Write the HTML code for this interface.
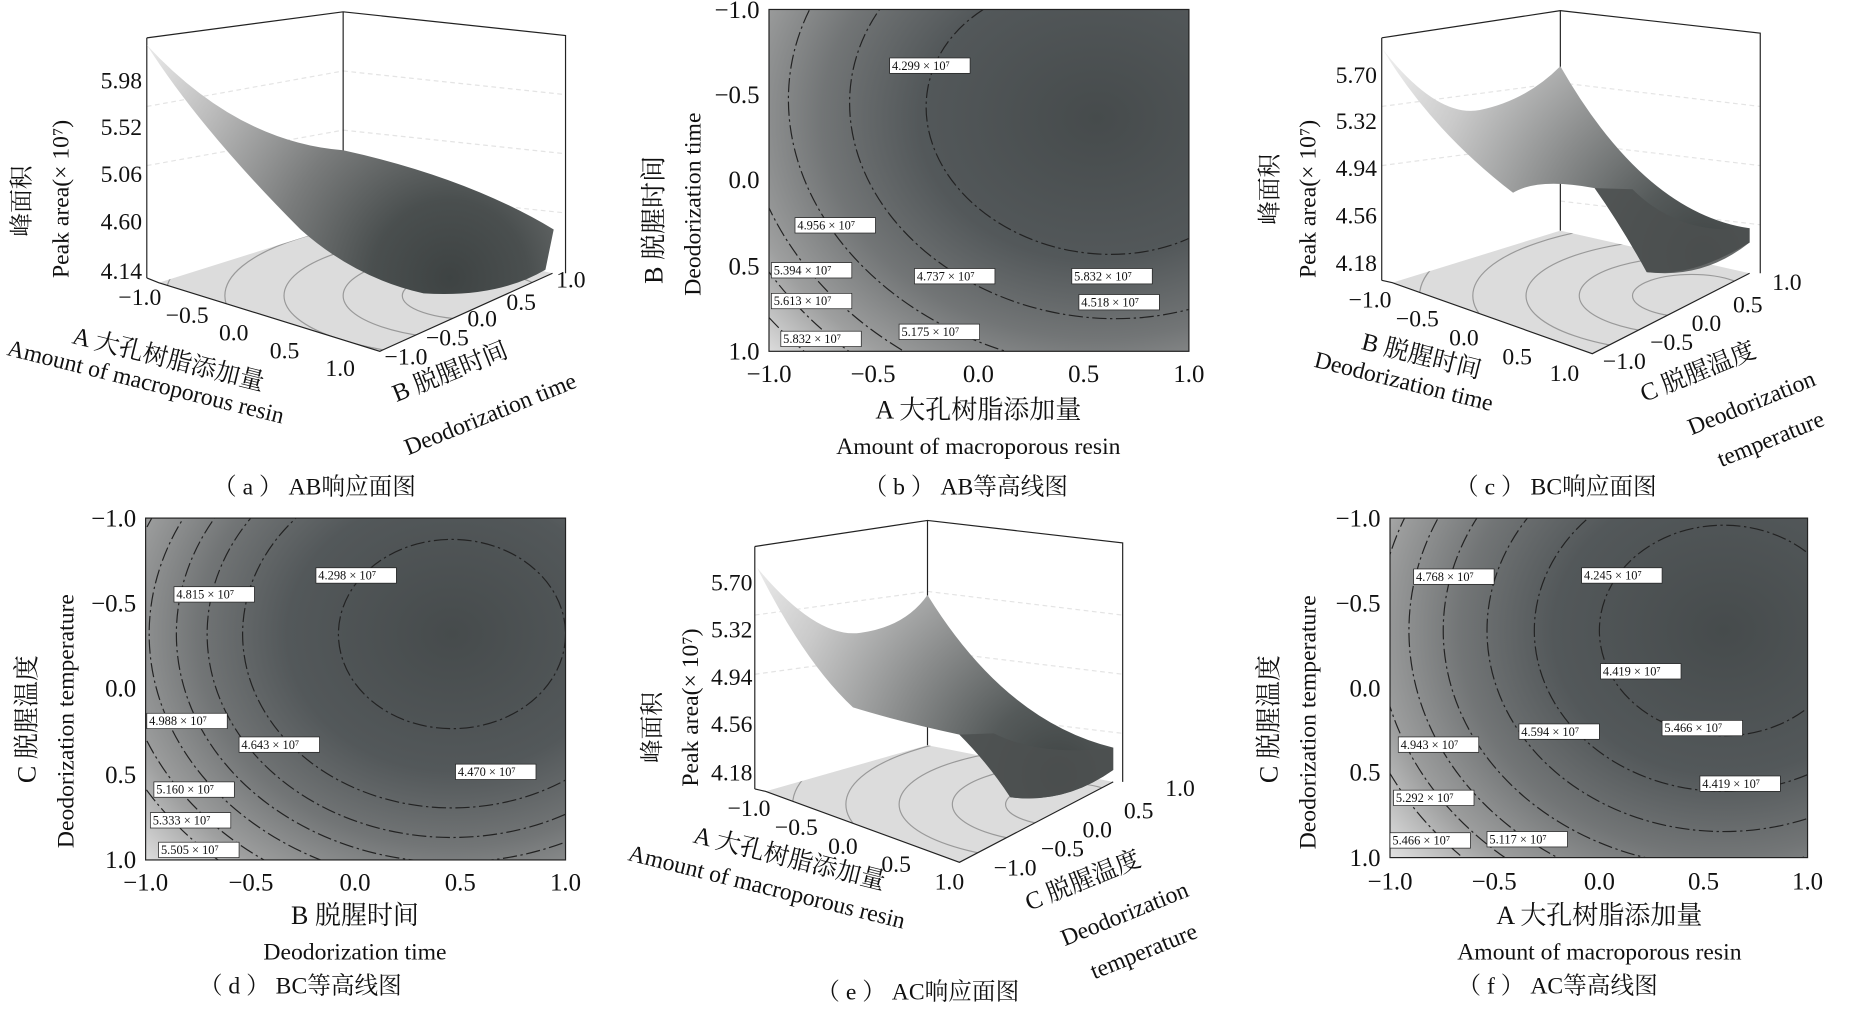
<!DOCTYPE html>
<html><head><meta charset="utf-8"><style>
html,body{margin:0;padding:0;background:#fff;}
svg{display:block;}
text{font-family:"Liberation Serif","Noto Serif CJK SC",serif;fill:#111;}
</style></head><body>
<svg width="1855" height="1009" viewBox="0 0 1568 853" xmlns="http://www.w3.org/2000/svg">
<defs>
<radialGradient id="gb" gradientUnits="userSpaceOnUse" cx="927" cy="100" r="300" gradientTransform="translate(927 100) scale(1.25 1) translate(-927 -100)">
<stop offset="0" stop-color="#464b4c"/><stop offset="0.4" stop-color="#53585a"/><stop offset="0.62" stop-color="#727576"/><stop offset="0.82" stop-color="#9e9f9f"/><stop offset="1" stop-color="#e0e0e0"/></radialGradient>
<radialGradient id="gd" gradientUnits="userSpaceOnUse" cx="382" cy="536" r="290" gradientTransform="translate(382 536) scale(1.2 1) translate(-382 -536)">
<stop offset="0" stop-color="#464b4c"/><stop offset="0.4" stop-color="#53585a"/><stop offset="0.62" stop-color="#727576"/><stop offset="0.82" stop-color="#9e9f9f"/><stop offset="1" stop-color="#e0e0e0"/></radialGradient>
<radialGradient id="gf" gradientUnits="userSpaceOnUse" cx="1457" cy="533" r="305" gradientTransform="translate(1457 533) scale(1.18 1) translate(-1457 -533)">
<stop offset="0" stop-color="#464b4c"/><stop offset="0.4" stop-color="#53585a"/><stop offset="0.62" stop-color="#727576"/><stop offset="0.82" stop-color="#9e9f9f"/><stop offset="1" stop-color="#e0e0e0"/></radialGradient>
<radialGradient id="sa" gradientUnits="userSpaceOnUse" cx="380" cy="235" r="330">
<stop offset="0" stop-color="#3e4343"/><stop offset="0.2" stop-color="#4a4f4f"/><stop offset="0.45" stop-color="#7a7c7c"/><stop offset="0.75" stop-color="#bdbdbd"/><stop offset="1" stop-color="#efefef"/></radialGradient>
<radialGradient id="sc" gradientUnits="userSpaceOnUse" cx="1440" cy="215" r="320">
<stop offset="0" stop-color="#3e4343"/><stop offset="0.2" stop-color="#555a5a"/><stop offset="0.45" stop-color="#8a8c8c"/><stop offset="0.75" stop-color="#cacaca"/><stop offset="1" stop-color="#f0f0f0"/></radialGradient>
<radialGradient id="se" gradientUnits="userSpaceOnUse" cx="895" cy="655" r="320">
<stop offset="0" stop-color="#3e4343"/><stop offset="0.2" stop-color="#555a5a"/><stop offset="0.45" stop-color="#8a8c8c"/><stop offset="0.75" stop-color="#cacaca"/><stop offset="1" stop-color="#f0f0f0"/></radialGradient>
<clipPath id="cb"><rect x="650" y="8" width="355" height="289"/></clipPath>
<clipPath id="cd"><rect x="123" y="438" width="355" height="289"/></clipPath>
<clipPath id="cf"><rect x="1175" y="438" width="353" height="287"/></clipPath>
<clipPath id="fa"><polygon points="134,239 321,297 467,231 290,190"/></clipPath>
<clipPath id="fc"><polygon points="1177,239 1346,299 1479,231 1319,195"/></clipPath>
<clipPath id="fe"><polygon points="647,669 811,729 941,661 784,630"/></clipPath>
</defs>

<!-- ===== (a) ===== -->
<g>
<g stroke="#e4e4e4" stroke-dasharray="4 3"><line x1="124" y1="90" x2="290" y2="60"/><line x1="124" y1="140" x2="290" y2="110"/><line x1="290" y1="60" x2="478" y2="80"/><line x1="290" y1="110" x2="478" y2="130"/><line x1="290" y1="160" x2="478" y2="180"/></g>
<polygon points="134,239 321,297 467,231 290,190" fill="#dcdcdc"/>
<g clip-path="url(#fa)" fill="none" stroke="#999"><ellipse cx="400" cy="250" rx="60" ry="20"/><ellipse cx="400" cy="250" rx="110" ry="37"/><ellipse cx="400" cy="250" rx="160" ry="52"/><ellipse cx="400" cy="250" rx="210" ry="68"/><ellipse cx="400" cy="250" rx="260" ry="85"/></g>
<polyline points="124,32 290,10 478,30 478,231" fill="none" stroke="#222"/>
<line x1="290" y1="10" x2="290" y2="190" stroke="#222"/>
<line x1="124" y1="32" x2="124" y2="235" stroke="#222"/>
<polyline points="124,235 134,239 321,297 467,231" fill="none" stroke="#222"/>
<path d="M124,38 Q200,120 290,127 Q395,150 468,194 L461,228 Q420,252 358,248 Q300,235 254,194 Q170,110 124,38 Z" fill="url(#sa)"/>
<g font-size="20" text-anchor="end"><text x="120" y="75">5.98</text><text x="120" y="114">5.52</text><text x="120" y="154">5.06</text><text x="120" y="194">4.60</text><text x="120" y="236">4.14</text></g>
<text font-size="20" transform="translate(25 200) rotate(-90)">峰面积</text>
<text font-size="20" transform="translate(58 235) rotate(-90)">Peak area(× 10⁷)</text>
<g font-size="20"><text x="100" y="258">−1.0</text><text x="140" y="273">−0.5</text><text x="185" y="288">0.0</text><text x="228" y="303">0.5</text><text x="275" y="318">1.0</text></g>
<text font-size="21" x="60" y="290" transform="rotate(14 60 290)">A 大孔树脂添加量</text>
<text font-size="20" x="5" y="300" transform="rotate(14 5 300)">Amount of macroporous resin</text>
<g font-size="20"><text x="325" y="308">−1.0</text><text x="360" y="292">−0.5</text><text x="395" y="276">0.0</text><text x="428" y="262">0.5</text><text x="470" y="243">1.0</text></g>
<text font-size="21" x="335" y="340" transform="rotate(-22 335 340)">B 脱腥时间</text>
<text font-size="20" x="345" y="385" transform="rotate(-22 345 385)">Deodorization time</text>
<text font-size="20" x="180" y="418">（ a ） AB响应面图</text>
</g>

<!-- ===== (b) ===== -->
<g>
<rect x="650" y="8" width="355" height="289" fill="url(#gb)"/>
<g clip-path="url(#cb)" fill="none" stroke="#222" stroke-dasharray="12 3 2 3">
<g transform="rotate(10 927 100)">
<ellipse cx="927" cy="100" rx="145" ry="114"/><ellipse cx="927" cy="100" rx="210" ry="168"/><ellipse cx="927" cy="100" rx="262" ry="210"/><ellipse cx="927" cy="100" rx="300" ry="245"/><ellipse cx="927" cy="100" rx="330" ry="270"/><ellipse cx="927" cy="100" rx="358" ry="292"/></g>
</g>
<rect x="650" y="8" width="355" height="289" fill="none" stroke="#222"/>
<g font-size="10.5"><g fill="#fff" stroke="#222" stroke-width="0.6">
<rect x="752" y="49" width="68" height="13"/><rect x="672" y="184" width="68" height="13"/><rect x="652" y="222" width="68" height="13"/><rect x="773" y="227" width="68" height="13"/><rect x="906" y="227" width="68" height="13"/><rect x="652" y="248" width="68" height="13"/><rect x="912" y="249" width="68" height="13"/><rect x="760" y="274" width="68" height="13"/><rect x="660" y="280" width="68" height="13"/></g>
<text x="754" y="59">4.299 × 10⁷</text><text x="674" y="194">4.956 × 10⁷</text><text x="654" y="232">5.394 × 10⁷</text><text x="775" y="237">4.737 × 10⁷</text><text x="908" y="237">5.832 × 10⁷</text><text x="654" y="258">5.613 × 10⁷</text><text x="914" y="259">4.518 × 10⁷</text><text x="762" y="284">5.175 × 10⁷</text><text x="662" y="290">5.832 × 10⁷</text></g>
<g font-size="21" text-anchor="end"><text x="642" y="15">−1.0</text><text x="642" y="87">−0.5</text><text x="642" y="159">0.0</text><text x="642" y="232">0.5</text><text x="642" y="304">1.0</text></g>
<g font-size="21" text-anchor="middle"><text x="650" y="323">−1.0</text><text x="738" y="323">−0.5</text><text x="827" y="323">0.0</text><text x="916" y="323">0.5</text><text x="1005" y="323">1.0</text></g>
<text font-size="22" transform="translate(560 240) rotate(-90)">B 脱腥时间</text>
<text font-size="20" transform="translate(592 250) rotate(-90)">Deodorization time</text>
<text font-size="22" x="827" y="354" text-anchor="middle">A 大孔树脂添加量</text>
<text font-size="20" x="827" y="384" text-anchor="middle">Amount of macroporous resin</text>
<text font-size="20" x="730" y="418">（ b ） AB等高线图</text>
</g>

<!-- ===== (c) ===== -->
<g>
<g stroke="#e4e4e4" stroke-dasharray="4 3"><line x1="1168" y1="90" x2="1319" y2="70"/><line x1="1168" y1="140" x2="1319" y2="120"/><line x1="1319" y1="70" x2="1488" y2="90"/><line x1="1319" y1="120" x2="1488" y2="140"/><line x1="1319" y1="170" x2="1488" y2="190"/></g>
<polygon points="1177,239 1346,299 1479,231 1319,195" fill="#dcdcdc"/>
<g clip-path="url(#fc)" fill="none" stroke="#999"><ellipse cx="1430" cy="250" rx="50" ry="18"/><ellipse cx="1430" cy="250" rx="95" ry="33"/><ellipse cx="1430" cy="250" rx="140" ry="48"/><ellipse cx="1430" cy="250" rx="185" ry="63"/><ellipse cx="1430" cy="250" rx="230" ry="78"/></g>
<polyline points="1168,32 1319,9 1488,28 1488,231" fill="none" stroke="#222"/>
<line x1="1319" y1="9" x2="1319" y2="195" stroke="#222"/>
<line x1="1168" y1="32" x2="1168" y2="237" stroke="#222"/>
<polyline points="1168,237 1177,239 1346,299 1479,231" fill="none" stroke="#222"/>
<path d="M1169,42 Q1215,100 1251,93 Q1290,85 1319,56 Q1390,180 1479,193 L1479,205 Q1430,235 1392,230 Q1370,190 1348,159 Q1300,150 1279,163 Q1210,110 1169,42 Z" fill="url(#sc)"/>
<path d="M1348,159 Q1370,190 1392,230 Q1440,236 1479,205 L1479,193 Q1420,200 1380,160 Z" fill="#4c5050" opacity="0.85"/>
<g font-size="20" text-anchor="end"><text x="1164" y="70">5.70</text><text x="1164" y="109">5.32</text><text x="1164" y="149">4.94</text><text x="1164" y="189">4.56</text><text x="1164" y="229">4.18</text></g>
<text font-size="20" transform="translate(1080 190) rotate(-90)">峰面积</text>
<text font-size="20" transform="translate(1112 235) rotate(-90)">Peak area(× 10⁷)</text>
<g font-size="20"><text x="1140" y="260">−1.0</text><text x="1180" y="276">−0.5</text><text x="1225" y="292">0.0</text><text x="1270" y="308">0.5</text><text x="1310" y="322">1.0</text></g>
<text font-size="21" x="1150" y="295" transform="rotate(14 1150 295)">B 脱腥时间</text>
<text font-size="20" x="1110" y="310" transform="rotate(14 1110 310)">Deodorization time</text>
<g font-size="20"><text x="1355" y="312">−1.0</text><text x="1395" y="296">−0.5</text><text x="1430" y="280">0.0</text><text x="1465" y="264">0.5</text><text x="1498" y="245">1.0</text></g>
<text font-size="21" x="1390" y="340" transform="rotate(-22 1390 340)">C 脱腥温度</text>
<text font-size="20" x="1430" y="368" transform="rotate(-22 1430 368)">Deodorization</text>
<text font-size="20" x="1455" y="395" transform="rotate(-22 1455 395)">temperature</text>
<text font-size="20" x="1230" y="418">（ c ） BC响应面图</text>
</g>

<!-- ===== (d) ===== -->
<g>
<rect x="123" y="438" width="355" height="289" fill="url(#gd)"/>
<g clip-path="url(#cd)" fill="none" stroke="#222" stroke-dasharray="12 3 2 3">
<ellipse cx="382" cy="536" rx="96" ry="80"/><ellipse cx="382" cy="536" rx="177" ry="147"/><ellipse cx="382" cy="536" rx="207" ry="172"/><ellipse cx="382" cy="536" rx="233" ry="193"/><ellipse cx="382" cy="536" rx="256" ry="212"/><ellipse cx="382" cy="536" rx="280" ry="232"/><ellipse cx="382" cy="536" rx="303" ry="252"/>
</g>
<rect x="123" y="438" width="355" height="289" fill="none" stroke="#222"/>
<g font-size="10.5"><g fill="#fff" stroke="#222" stroke-width="0.6">
<rect x="267" y="480" width="68" height="13"/><rect x="147" y="496" width="68" height="13"/><rect x="124" y="603" width="68" height="13"/><rect x="202" y="623" width="68" height="13"/><rect x="385" y="646" width="68" height="13"/><rect x="130" y="661" width="68" height="13"/><rect x="127" y="687" width="68" height="13"/><rect x="134" y="712" width="68" height="13"/></g>
<text x="269" y="490">4.298 × 10⁷</text><text x="149" y="506">4.815 × 10⁷</text><text x="126" y="613">4.988 × 10⁷</text><text x="204" y="633">4.643 × 10⁷</text><text x="387" y="656">4.470 × 10⁷</text><text x="132" y="671">5.160 × 10⁷</text><text x="129" y="697">5.333 × 10⁷</text><text x="136" y="722">5.505 × 10⁷</text></g>
<g font-size="21" text-anchor="end"><text x="115" y="445">−1.0</text><text x="115" y="517">−0.5</text><text x="115" y="589">0.0</text><text x="115" y="662">0.5</text><text x="115" y="734">1.0</text></g>
<g font-size="21" text-anchor="middle"><text x="123" y="753">−1.0</text><text x="212" y="753">−0.5</text><text x="300" y="753">0.0</text><text x="389" y="753">0.5</text><text x="478" y="753">1.0</text></g>
<text font-size="22" transform="translate(30 662) rotate(-90)">C 脱腥温度</text>
<text font-size="20" transform="translate(62 717) rotate(-90)">Deodorization temperature</text>
<text font-size="22" x="300" y="781" text-anchor="middle">B 脱腥时间</text>
<text font-size="20" x="300" y="811" text-anchor="middle">Deodorization time</text>
<text font-size="20" x="168" y="840">（ d ） BC等高线图</text>
</g>

<!-- ===== (e) ===== -->
<g>
<g stroke="#e4e4e4" stroke-dasharray="4 3"><line x1="638" y1="520" x2="784" y2="500"/><line x1="638" y1="570" x2="784" y2="550"/><line x1="784" y1="500" x2="949" y2="520"/><line x1="784" y1="550" x2="949" y2="570"/><line x1="784" y1="600" x2="949" y2="620"/></g>
<polygon points="647,669 811,729 941,661 784,630" fill="#dcdcdc"/>
<g clip-path="url(#fe)" fill="none" stroke="#999"><ellipse cx="900" cy="680" rx="50" ry="18"/><ellipse cx="900" cy="680" rx="95" ry="33"/><ellipse cx="900" cy="680" rx="140" ry="48"/><ellipse cx="900" cy="680" rx="185" ry="63"/><ellipse cx="900" cy="680" rx="230" ry="78"/></g>
<polyline points="638,462 784,440 949,459 949,661" fill="none" stroke="#222"/>
<line x1="784" y1="440" x2="784" y2="630" stroke="#222"/>
<line x1="638" y1="462" x2="638" y2="667" stroke="#222"/>
<polyline points="638,667 647,669 811,729 941,661" fill="none" stroke="#222"/>
<path d="M640,480 Q690,540 727,535 Q765,530 784,503 Q850,610 941,632 L941,651 Q900,680 854,674 Q835,645 811,621 Q760,610 721,598 Q680,560 640,480 Z" fill="url(#se)"/>
<path d="M811,621 Q835,645 854,674 Q900,680 941,651 L941,632 Q880,640 840,620 Z" fill="#4c5050" opacity="0.85"/>
<g font-size="20" text-anchor="end"><text x="636" y="499">5.70</text><text x="636" y="539">5.32</text><text x="636" y="579">4.94</text><text x="636" y="619">4.56</text><text x="636" y="660">4.18</text></g>
<text font-size="20" transform="translate(558 645) rotate(-90)">峰面积</text>
<text font-size="20" transform="translate(590 665) rotate(-90)">Peak area(× 10⁷)</text>
<g font-size="20"><text x="615" y="690">−1.0</text><text x="655" y="706">−0.5</text><text x="700" y="722">0.0</text><text x="745" y="737">0.5</text><text x="790" y="752">1.0</text></g>
<text font-size="21" x="585" y="712" transform="rotate(14 585 712)">A 大孔树脂添加量</text>
<text font-size="20" x="530" y="727" transform="rotate(14 530 727)">Amount of macroporous resin</text>
<g font-size="20"><text x="840" y="740">−1.0</text><text x="880" y="724">−0.5</text><text x="915" y="708">0.0</text><text x="950" y="692">0.5</text><text x="985" y="673">1.0</text></g>
<text font-size="21" x="870" y="770" transform="rotate(-22 870 770)">C 脱腥温度</text>
<text font-size="20" x="900" y="800" transform="rotate(-22 900 800)">Deodorization</text>
<text font-size="20" x="925" y="828" transform="rotate(-22 925 828)">temperature</text>
<text font-size="20" x="690" y="845">（ e ） AC响应面图</text>
</g>

<!-- ===== (f) ===== -->
<g>
<rect x="1175" y="438" width="353" height="287" fill="url(#gf)"/>
<g clip-path="url(#cf)" fill="none" stroke="#222" stroke-dasharray="12 3 2 3">
<ellipse cx="1457" cy="533" rx="105" ry="89"/><ellipse cx="1457" cy="533" rx="160" ry="136"/><ellipse cx="1457" cy="533" rx="200" ry="170"/><ellipse cx="1457" cy="533" rx="237" ry="200"/><ellipse cx="1457" cy="533" rx="266" ry="226"/><ellipse cx="1457" cy="533" rx="292" ry="248"/><ellipse cx="1457" cy="533" rx="316" ry="268"/>
</g>
<rect x="1175" y="438" width="353" height="287" fill="none" stroke="#222"/>
<g font-size="10.5"><g fill="#fff" stroke="#222" stroke-width="0.6">
<rect x="1195" y="481" width="68" height="13"/><rect x="1337" y="480" width="68" height="13"/><rect x="1353" y="561" width="68" height="13"/><rect x="1405" y="609" width="68" height="13"/><rect x="1284" y="612" width="68" height="13"/><rect x="1182" y="623" width="68" height="13"/><rect x="1437" y="656" width="68" height="13"/><rect x="1178" y="668" width="68" height="13"/><rect x="1175" y="704" width="68" height="13"/><rect x="1257" y="703" width="68" height="13"/></g>
<text x="1197" y="491">4.768 × 10⁷</text><text x="1339" y="490">4.245 × 10⁷</text><text x="1355" y="571">4.419 × 10⁷</text><text x="1407" y="619">5.466 × 10⁷</text><text x="1286" y="622">4.594 × 10⁷</text><text x="1184" y="633">4.943 × 10⁷</text><text x="1439" y="666">4.419 × 10⁷</text><text x="1180" y="678">5.292 × 10⁷</text><text x="1177" y="714">5.466 × 10⁷</text><text x="1259" y="713">5.117 × 10⁷</text></g>
<g font-size="21" text-anchor="end"><text x="1167" y="445">−1.0</text><text x="1167" y="517">−0.5</text><text x="1167" y="589">0.0</text><text x="1167" y="660">0.5</text><text x="1167" y="732">1.0</text></g>
<g font-size="21" text-anchor="middle"><text x="1175" y="752">−1.0</text><text x="1263" y="752">−0.5</text><text x="1352" y="752">0.0</text><text x="1440" y="752">0.5</text><text x="1528" y="752">1.0</text></g>
<text font-size="22" transform="translate(1080 662) rotate(-90)">C 脱腥温度</text>
<text font-size="20" transform="translate(1112 718) rotate(-90)">Deodorization temperature</text>
<text font-size="22" x="1352" y="781" text-anchor="middle">A 大孔树脂添加量</text>
<text font-size="20" x="1352" y="811" text-anchor="middle">Amount of macroporous resin</text>
<text font-size="20" x="1232" y="840">（ f ） AC等高线图</text>
</g>
</svg>
</body></html>
